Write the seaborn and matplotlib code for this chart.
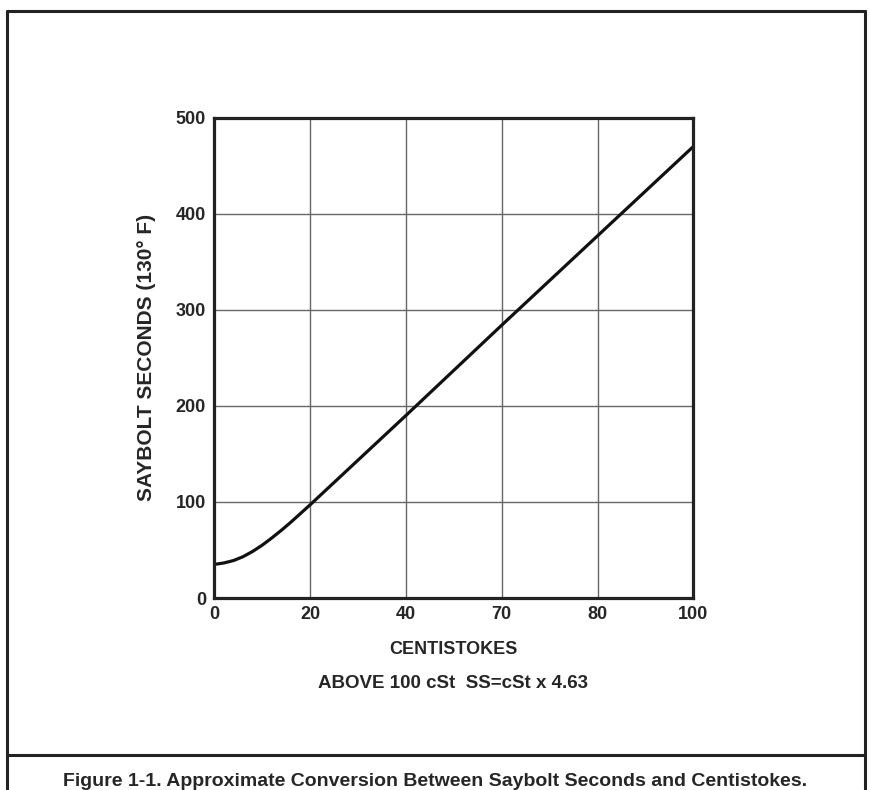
import numpy as np
import pandas as pd
import matplotlib
matplotlib.use("Agg")
import matplotlib.pyplot as plt
import seaborn as sns
from matplotlib.lines import Line2D

# valeurs
centistokes = [0, 2, 4, 6, 8, 10, 12, 14, 16, 18, 20, 40, 60, 80, 100]
saybolt = [35, 36.5, 39, 43, 48.5, 55, 62.5, 70.5, 79, 88, 97, 190, 284, 377, 470]

x_ticks = [0, 20, 40, 60, 80, 100]
x_labels = ["0", "20", "40", "70", "80", "100"]
y_ticks = [0, 100, 200, 300, 400, 500]

data = pd.DataFrame({"cSt": centistokes, "SS": saybolt})

sns.set_theme(style="white")
plt.rcParams["font.family"] = ["Liberation Sans", "DejaVu Sans"]
plt.rcParams["font.weight"] = "bold"

fig = plt.figure(figsize=(8.71, 7.9), dpi=100)
ax = fig.add_axes([0.246, 0.243, 0.550, 0.608])

sns.lineplot(data=data, x="cSt", y="SS", color="#111111", linewidth=2.3, ax=ax)

ax.set_xlim(0, 100)
ax.set_ylim(0, 500)
ax.set_xticks(x_ticks)
ax.set_xticklabels(x_labels)
ax.set_yticks(y_ticks)
ax.tick_params(length=0, labelsize=13, pad=6)
for lab in ax.get_xticklabels() + ax.get_yticklabels():
    lab.set_fontweight("bold")
ax.grid(True, color="#666666", linewidth=1)
for s in ax.spines.values():
    s.set_color("#222222")
    s.set_linewidth(2.3)

ax.set_xlabel("CENTISTOKES", fontsize=13, fontweight="bold", labelpad=13)
ax.set_ylabel("SAYBOLT SECONDS (130° F)", fontsize=15, fontweight="bold", labelpad=14)

fig.text(0.52, 1 - 684 / 790, "ABOVE 100 cSt  SS=cSt x 4.63", ha="center", va="center",
         fontsize=13.5, fontweight="bold")
fig.text(0.5, 1 - 781 / 790, "Figure 1-1. Approximate Conversion Between Saybolt Seconds and Centistokes.",
         ha="center", va="center", fontsize=14, fontweight="bold")

# cadre
W, H = 871, 790
def fx(p):
    return p / W
def fy(p):
    return 1 - p / H
frame = dict(color="#222222", linewidth=2.2, transform=fig.transFigure)
fig.add_artist(Line2D([fx(7), fx(7)], [fy(11), 0], **frame))
fig.add_artist(Line2D([fx(865), fx(865)], [fy(11), 0], **frame))
fig.add_artist(Line2D([fx(7), fx(865)], [fy(11), fy(11)], **frame))
fig.add_artist(Line2D([fx(7), fx(865)], [fy(755), fy(755)], **frame))

fig.savefig("out.png", dpi=100)
